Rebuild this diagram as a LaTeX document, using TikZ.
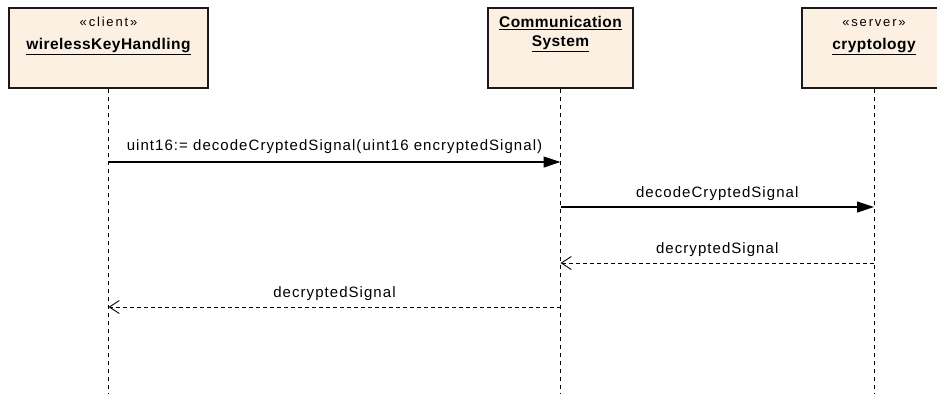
\documentclass[tikz,border=0pt]{standalone}
\usepackage{fontspec}
\setmainfont{Liberation Sans}
\newfontfamily\msgfont[LetterSpace=7]{Liberation Sans}
\newfontfamily\stereofont[LetterSpace=14]{Liberation Sans}
\newfontfamily\namefont[LetterSpace=3]{Liberation Sans Bold}
\usetikzlibrary{positioning,arrows.meta}
\definecolor{boxfill}{RGB}{251,240,226}

\begin{document}
\begin{tikzpicture}[
    x=1pt, y=-1pt,
    obj/.style={
        draw=black!90,
        line width=1.4pt,
        fill=boxfill,
        minimum height=80pt,
        inner sep=0pt
    },
    stereo/.style={font=\fontsize{13}{15}\stereofont, inner sep=0pt, anchor=base},
    objname/.style={font=\fontsize{15.5}{18}\namefont, inner sep=0pt, anchor=base},
    msg/.style={font=\fontsize{15}{17}\msgfont, inner sep=0pt, anchor=base},
    life/.style={draw=black, line width=0.9pt, dash pattern=on 4pt off 4pt},
    call/.style={draw=black, line width=1.2pt, -{Triangle[length=17pt,width=11pt]}},
    reply/.style={draw=black, line width=0.9pt, dash pattern=on 4pt off 3pt,
        -{Straight Barb[length=10pt,width=13pt]}}
]
    \useasboundingbox (0,0) rectangle (937,394);

    % objects
    \node[obj, minimum width=199pt] (cli) at (108.5,48) {};
    \node[obj, minimum width=145pt] (com) at (560.5,48) {};
    \node[obj, minimum width=144pt] (cry) at (874,48) {};

    \node[stereo] (cliSt) at ([yshift=-19pt]cli.north) {«client»};
    \node[objname] (cliName) at ([yshift=-42pt]cli.north) {\underline{wirelessKeyHandling}};
    \node[objname] (comName) at ([yshift=-20pt]com.north) {\underline{Communication}};
    \node[objname] (comName2) at ([yshift=-39pt]com.north) {\underline{System}};
    \node[stereo] (crySt) at ([yshift=-19pt]cry.north) {«server»};
    \node[objname] (cryName) at ([yshift=-42pt]cry.north) {\underline{cryptology}};

    % lifelines
    \coordinate (cliEnd) at (cli.south |- 0,394);
    \coordinate (comEnd) at (com.south |- 0,394);
    \coordinate (cryEnd) at (cry.south |- 0,394);
    \draw[life] (cli) -- (cliEnd);
    \draw[life] (com) -- (comEnd);
    \draw[life] (cry) -- (cryEnd);

    % messages
    \coordinate (m1a) at (cli.south |- 0,162);
    \coordinate (m1b) at (com.south |- 0,162);
    \coordinate (m2a) at (com.south |- 0,207);
    \coordinate (m2b) at (cry.south |- 0,207);
    \coordinate (m3a) at (cry.south |- 0,263);
    \coordinate (m3b) at (com.south |- 0,263);
    \coordinate (m4a) at (com.south |- 0,307);
    \coordinate (m4b) at (cli.south |- 0,307);

    \draw[call] (m1a) -- node[msg, yshift=12pt] (m1lab)
        {uint16:= decodeCryptedSignal(uint16 encryptedSignal)} (m1b);
    \draw[call] (m2a) -- node[msg, yshift=10pt] (m2lab) {decodeCryptedSignal} (m2b);
    \draw[reply] (m3a) -- node[msg, yshift=10pt] (m3lab) {decryptedSignal} (m3b);
    \draw[reply] (m4a) -- node[msg, yshift=10pt] (m4lab) {decryptedSignal} (m4b);
\end{tikzpicture}
\end{document}
